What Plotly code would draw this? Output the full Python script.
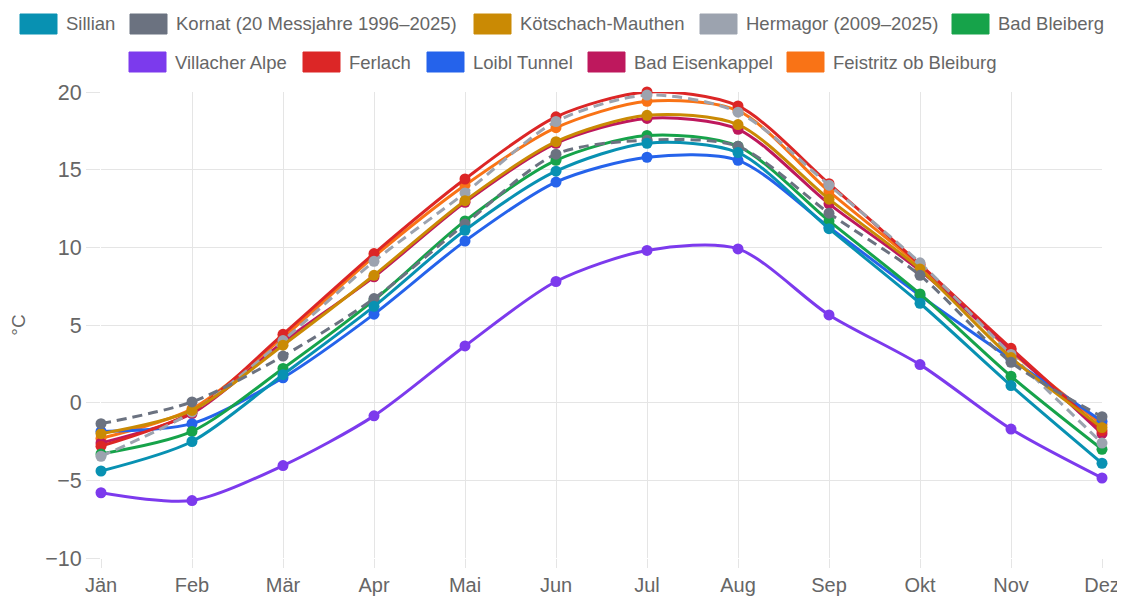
import plotly.graph_objects as go

months = ["Jän", "Feb", "Mär", "Apr", "Mai", "Jun", "Jul", "Aug", "Sep", "Okt", "Nov", "Dez"]

sillian = [-4.4, -2.5, 1.8, 6.2, 11.1, 14.9, 16.7, 16.1, 11.2, 6.4, 1.1, -3.9]
kornat = [-1.35, 0.05, 3.0, 6.7, 11.5, 16.0, 16.9, 16.5, 12.2, 8.2, 2.6, -0.9]
koetschach = [-2.0, -0.5, 3.7, 8.2, 13.0, 16.8, 18.5, 17.9, 13.1, 8.6, 2.9, -1.6]
hermagor = [-3.45, -0.6, 4.0, 9.1, 13.5, 18.1, 19.8, 18.7, 14.0, 9.0, 3.1, -2.6]
bad_bleiberg = [-3.3, -1.85, 2.2, 6.6, 11.7, 15.6, 17.2, 16.5, 11.7, 7.0, 1.7, -3.0]
villacher_alpe = [-5.8, -6.3, -4.05, -0.85, 3.65, 7.8, 9.8, 9.9, 5.65, 2.45, -1.7, -4.85]
ferlach = [-2.8, -0.6, 4.4, 9.6, 14.4, 18.4, 20.0, 19.1, 14.1, 8.9, 3.5, -1.8]
loibl = [-1.85, -1.35, 1.6, 5.7, 10.4, 14.2, 15.8, 15.6, 11.3, 6.9, 2.8, -1.2]
eisenkappel = [-2.6, -0.7, 3.9, 8.1, 12.9, 16.7, 18.3, 17.6, 12.8, 8.5, 3.4, -2.0]
feistritz = [-2.3, -0.4, 4.2, 9.4, 14.0, 17.7, 19.4, 18.8, 13.6, 8.8, 3.3, -1.4]

series = [
    ("Sillian", sillian, "#0891b2", "solid"),
    ("Kornat (20 Messjahre 1996–2025)", kornat, "#6b7280", "dash"),
    ("Kötschach-Mauthen", koetschach, "#ca8a04", "solid"),
    ("Hermagor (2009–2025)", hermagor, "#9ca3af", "dash"),
    ("Bad Bleiberg", bad_bleiberg, "#16a34a", "solid"),
    ("Villacher Alpe", villacher_alpe, "#7c3aed", "solid"),
    ("Ferlach", ferlach, "#dc2626", "solid"),
    ("Loibl Tunnel", loibl, "#2563eb", "solid"),
    ("Bad Eisenkappel", eisenkappel, "#be185d", "solid"),
    ("Feistritz ob Bleiburg", feistritz, "#f97316", "solid"),
]

# page has an 8px body margin; the figure may extend to the right window edge
OFF = 8
W, H = 1125 - OFF, 604 - 2 * OFF
PL, PT, PR, PB = 101, 92, 1102, 558  # plot area in page pixels
ML, MT = PL - OFF, PT - OFF
MR, MB = W - (PR - OFF), H - (PB - OFF)
PW, PH = PR - PL, PB - PT

fig = go.Figure()
for name, vals, color, dash in reversed(series):
    fig.add_trace(go.Scatter(
        x=months, y=vals, name=name, mode="lines+markers",
        line=dict(color=color, width=3, dash="10px,6px" if dash == "dash" else "solid",
                  shape="spline", smoothing=0.8),
        marker=dict(color=color, size=11),
        cliponaxis=False, showlegend=False,
    ))

# custom legend (Chart.js style boxes), positions in page pixels
def px2x(px):
    return (px - PL) / PW

def py2y(py):
    return (PB - py) / PH

legend_rows = [
    (24, [0, 1, 2, 3, 4], [20, 130, 474, 700, 952]),
    (62, [5, 6, 7, 8, 9], [129, 303, 427, 588, 787]),
]
shapes = []
annotations = []
for cy, idxs, xs in legend_rows:
    for i, bx in zip(idxs, xs):
        name, _, color, dash = series[i]
        shapes.append(dict(type="rect", xref="paper", yref="paper",
                           x0=px2x(bx), x1=px2x(bx + 37), y0=py2y(cy - 10), y1=py2y(cy + 10),
                           fillcolor=color, line=dict(color=color, width=1)))
        annotations.append(dict(text=name, xref="paper", yref="paper",
                                x=px2x(bx + 44), y=py2y(cy), xanchor="left", yanchor="middle",
                                showarrow=False, font=dict(size=18.5, color="#666")))

fig.update_layout(
    width=W, height=H,
    margin=dict(l=ML, r=MR, t=MT, b=MB, autoexpand=False),
    paper_bgcolor="white", plot_bgcolor="white",
    font=dict(family="Liberation Sans, Arial, sans-serif", color="#666", size=18),
    shapes=shapes, annotations=annotations,
    xaxis=dict(type="category", range=[0, 11], showgrid=True, gridcolor="#e5e5e5", gridwidth=1,
               ticks="outside", ticklen=9, tickcolor="#e5e5e5", zeroline=False,
               showline=False, automargin=False, ticklabelstandoff=0,
               tickfont=dict(size=20, color="#666")),
    yaxis=dict(range=[-10, 20], dtick=5, showgrid=True, gridcolor="#e5e5e5", gridwidth=1,
               ticks="outside", ticklen=14, tickcolor="#e5e5e5", zeroline=False,
               showline=False, automargin=False, tickfont=dict(size=21.5, color="#666"),
               title=dict(text="°C", font=dict(size=19, color="#666"), standoff=18)),
)

fig.write_html("out.html")
